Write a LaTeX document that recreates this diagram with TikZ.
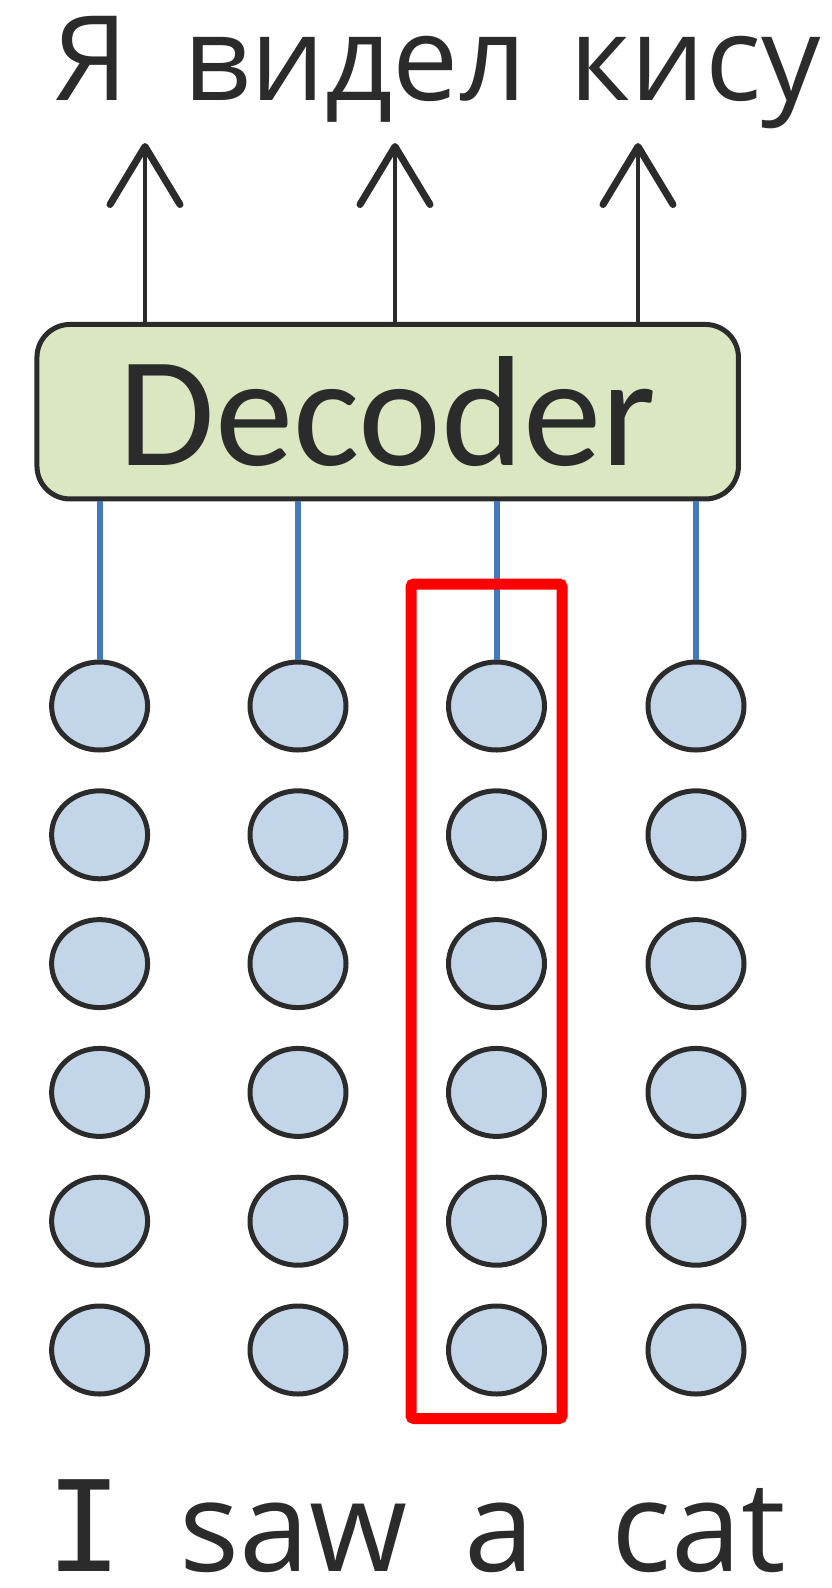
\documentclass[tikz,border=0pt]{standalone}
\usepackage{fontspec}
\usetikzlibrary{arrows.meta,shapes.geometric}
\newfontfamily\decfont{Carlito}
\newfontfamily\wordfont{Open Sans}
\newfontfamily\barfont{DejaVu Sans Mono}
\definecolor{ink}{HTML}{2B2B2B}
\definecolor{decfill}{HTML}{DAE7C1}
\definecolor{unitfill}{HTML}{C3D5E8}
\definecolor{linkblue}{HTML}{4479BD}
\definecolor{selred}{HTML}{FF0000}

\begin{document}
\begin{tikzpicture}[x=1pt,y=-1pt,
  outword/.style={anchor=base, inner sep=0pt, text=ink,
    font=\wordfont\fontsize{118}{120}\selectfont},
  inword/.style={anchor=base, inner sep=0pt, text=ink, text depth=0pt,
    font=\wordfont\fontsize{126}{130}\selectfont},
  decbox/.style={draw=ink, line width=5pt, fill=decfill,
    rounded corners=33pt, minimum width=701.5pt, minimum height=174.5pt,
    inner sep=0pt, text=ink, font=\decfont\fontsize{157}{160}\selectfont},
  unit/.style={ellipse, draw=ink, line width=5pt, fill=unitfill,
    minimum width=96pt, minimum height=88pt, inner sep=0pt},
  outarrow/.style={draw=ink, line width=4.5pt,
    -{Straight Barb[length=58pt, width=70pt, line width=7pt, round]}},
  link/.style={draw=linkblue, line width=6pt},
  selbox/.style={draw=selred, line width=11pt, rounded corners=3pt}]

\useasboundingbox (0,0) rectangle (831,1588);

% output words
\node[outword] (o1) at (91,100) {Я};
\node[outword] (o2) at (355,100) {видел};
\node[outword] (o3) at (695,100) {кису};

% decoder block
\node[decbox] (dec) at (387.7,411.7) {Decoder};

% arrow tips above the decoder
\coordinate (t1) at (145,143);
\coordinate (t2) at (395,143);
\coordinate (t3) at (638,143);
\foreach \i in {1,2,3}
  \draw[outarrow] (t\i |- dec.north) -- (t\i);

% grid of hidden units, one column per input word
\foreach \c/\x in {1/99.6,2/298,3/496.5,4/696}{
  \foreach \r in {1,...,6}{
    \node[unit] (u\c-\r) at (\x,{706+128.8*(\r-1)}) {};
  }
  \draw[link] (u\c-1.north |- dec.south) -- (u\c-1.north);
}

% highlighted column
\coordinate (s1) at (411,584);
\coordinate (s2) at (562,1418.5);
\draw[selbox] (s1) rectangle (s2);

% input words
\node[inword, font=\barfont\fontsize{126}{130}\selectfont] (i1) at (84.5,1571) {I};
\node[inword] (i2) at (293.5,1571) {saw};
\node[inword] (i3) at (500,1571) {a};
\node[inword] (i4) at (698.5,1571) {cat};
\end{tikzpicture}
\end{document}
